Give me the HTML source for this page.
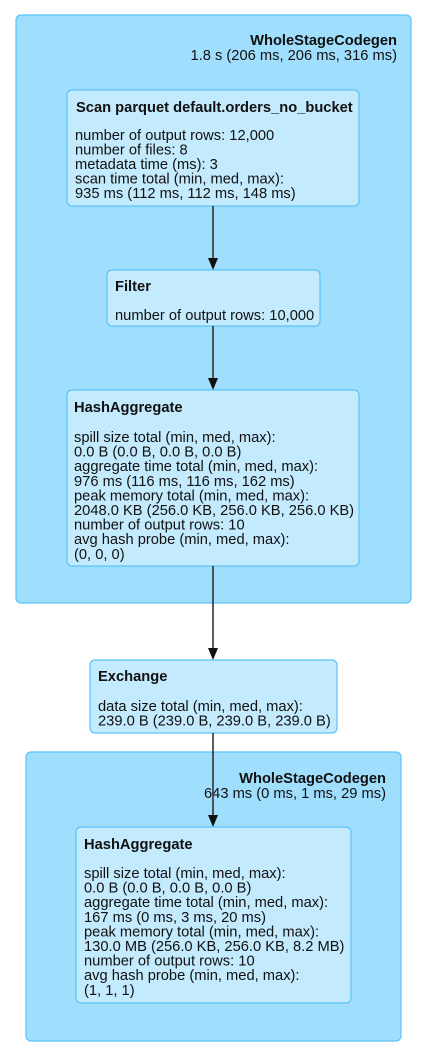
<!DOCTYPE html>
<html><head><meta charset="utf-8"><style>
html,body{margin:0;padding:0;background:#fff;}
svg{display:block;font-family:"Liberation Sans",Arial,sans-serif;font-size:14.7px;fill:#111;}
.c{fill:#A0DEFD;stroke:#5CC3F7;stroke-width:1.2;}
.n{fill:#C4EAFE;stroke:#5CC3F7;stroke-width:1.2;}
.b{font-weight:bold;}
.e{stroke:#333;stroke-width:1.6;}
.h{fill:#111;}
</style></head><body>
<svg width="425" height="1057" viewBox="0 0 425 1057">
<rect class="c" x="16" y="15" width="395" height="588" rx="5"/>
<text class="b" x="397" y="45" text-anchor="end">WholeStageCodegen</text>
<text x="397" y="60" text-anchor="end">1.8 s (206 ms, 206 ms, 316 ms)</text>

<rect class="n" x="67" y="90" width="292" height="116" rx="5"/>
<text class="b" x="76" y="112">Scan parquet default.orders_no_bucket</text>
<text x="75" y="140">number of output rows: 12,000</text>
<text x="75" y="154.5">number of files: 8</text>
<text x="75" y="169">metadata time (ms): 3</text>
<text x="75" y="183.5">scan time total (min, med, max):</text>
<text x="75" y="198">935 ms (112 ms, 112 ms, 148 ms)</text>

<line class="e" x1="213" y1="206" x2="213" y2="260"/>
<polygon class="h" points="208,258 218,258 213,270"/>
<rect class="n" x="107" y="270" width="213" height="56" rx="5"/>
<text class="b" x="115" y="291">Filter</text>
<text x="115" y="320">number of output rows: 10,000</text>

<line class="e" x1="213" y1="326" x2="213" y2="380"/>
<polygon class="h" points="208,378 218,378 213,390"/>
<rect class="n" x="67" y="390" width="292" height="176" rx="5"/>
<text class="b" x="74" y="412">HashAggregate</text>
<text x="74" y="442">spill size total (min, med, max):</text>
<text x="74" y="456.6">0.0 B (0.0 B, 0.0 B, 0.0 B)</text>
<text x="74" y="471.2">aggregate time total (min, med, max):</text>
<text x="74" y="485.8">976 ms (116 ms, 116 ms, 162 ms)</text>
<text x="74" y="500.4">peak memory total (min, med, max):</text>
<text x="74" y="515">2048.0 KB (256.0 KB, 256.0 KB, 256.0 KB)</text>
<text x="74" y="529.6">number of output rows: 10</text>
<text x="74" y="544.2">avg hash probe (min, med, max):</text>
<text x="74" y="558.8">(0, 0, 0)</text>

<line class="e" x1="213" y1="566" x2="213" y2="650"/>
<polygon class="h" points="208,648 218,648 213,660"/>
<rect class="n" x="90" y="660" width="247" height="73" rx="5"/>
<text class="b" x="98" y="681">Exchange</text>
<text x="98" y="711">data size total (min, med, max):</text>
<text x="98" y="725.5">239.0 B (239.0 B, 239.0 B, 239.0 B)</text>

<rect class="c" x="26" y="752" width="375" height="289" rx="5"/>
<text class="b" x="386" y="783" text-anchor="end">WholeStageCodegen</text>
<text x="386" y="798" text-anchor="end">643 ms (0 ms, 1 ms, 29 ms)</text>
<line class="e" x1="213" y1="733" x2="213" y2="817"/>
<polygon class="h" points="208,815 218,815 213,827"/>

<rect class="n" x="76" y="827" width="275" height="176" rx="5"/>
<text class="b" x="84" y="849">HashAggregate</text>
<text x="84" y="878">spill size total (min, med, max):</text>
<text x="84" y="892.6">0.0 B (0.0 B, 0.0 B, 0.0 B)</text>
<text x="84" y="907.2">aggregate time total (min, med, max):</text>
<text x="84" y="921.8">167 ms (0 ms, 3 ms, 20 ms)</text>
<text x="84" y="936.4">peak memory total (min, med, max):</text>
<text x="84" y="951">130.0 MB (256.0 KB, 256.0 KB, 8.2 MB)</text>
<text x="84" y="965.6">number of output rows: 10</text>
<text x="84" y="980.2">avg hash probe (min, med, max):</text>
<text x="84" y="994.8">(1, 1, 1)</text>
</svg>
</body></html>
